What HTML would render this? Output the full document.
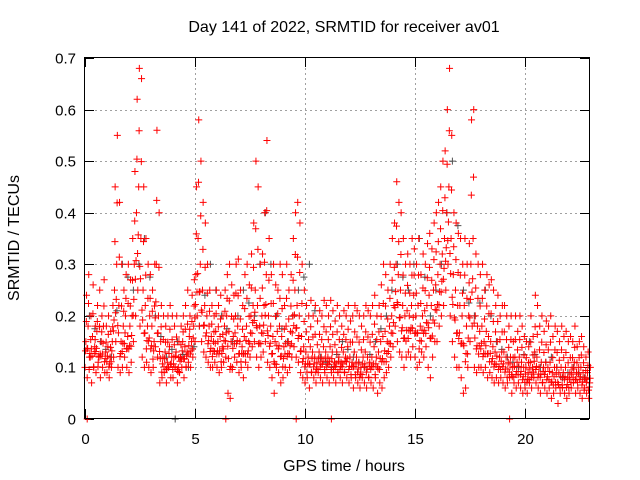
<!DOCTYPE html>
<html><head><meta charset="utf-8"><style>
body{margin:0;background:#fff}
svg{display:block;font-family:"Liberation Sans",sans-serif}
</style></head><body>
<svg id="chart" width="640" height="480" viewBox="0 0 640 480">
<rect width="640" height="480" fill="#fff"/>
<text x="344" y="32" text-anchor="middle" font-size="16">Day 141 of 2022, SRMTID for receiver av01</text>
<text x="344" y="471" text-anchor="middle" font-size="16">GPS time / hours</text>
<text transform="translate(19,238) rotate(-90)" text-anchor="middle" font-size="16">SRMTID / TECUs</text>
<g id="grid"></g>
<g id="ticks"></g>
<g id="gray"></g>
<g id="red"></g>
<rect x="84.5" y="57.5" width="505" height="361" fill="none" stroke="#000" stroke-width="1"/>
</svg>
<script>
const xTicks=[0,5,10,15,20];
const yTicks=[0,0.1,0.2,0.3,0.4,0.5,0.6,0.7];
const yTickLabels=["0","0.1","0.2","0.3","0.4","0.5","0.6","0.7"];
const redHi=[.24,.28,.2,.26,.18,.22,.25,.2,.27,.18,.2,.17,.22,.45,.55,.42,.3,.25,.28,.3,.27,.35,.48,.62,.68,.66,.45,.35,.3,.28,.25,.3,.56,.4,.22,.2,.18,.2,.22,.2,.18,.2,.15,.18,.2,.22,.25,.2,.24,.27,.45,.58,.5,.42,.38,.3,.25,.22,.2,.25,.22,.24,.2,.25,.28,.3,.26,.24,.3,.31,.25,.22,.28,.3,.26,.32,.38,.5,.45,.3,.32,.4,.54,.35,.28,.3,.26,.25,.3,.28,.22,.3,.25,.28,.35,.4,.42,.38,.3,.25,.22,.2,.23,.2,.22,.19,.21,.2,.23,.22,.2,.23,.21,.19,.22,.2,.18,.21,.2,.22,.19,.2,.22,.21,.2,.18,.2,.22,.21,.2,.22,.24,.2,.22,.26,.3,.28,.25,.3,.35,.38,.46,.42,.4,.35,.3,.32,.3,.35,.33,.3,.35,.28,.32,.3,.34,.36,.33,.38,.4,.42,.45,.5,.52,.6,.68,.55,.4,.38,.36,.35,.3,.35,.3,.34,.58,.6,.32,.3,.28,.3,.25,.28,.26,.27,.25,.22,.24,.2,.22,.22,.2,.18,.2,.15,.2,.17,.2,.18,.16,.15,.14,.2,.16,.24,.22,.18,.2,.17,.19,.18,.2,.16,.18,.17,.15,.18,.16,.17,.15,.16,.15,.18,.14,.15,.16,.14,.12,.13,.1];
const redMid=[.15,.18,.12,.16,.14,.17,.12,.15,.18,.13,.14,.12,.15,.25,.3,.22,.15,.18,.2,.16,.18,.2,.3,.4,.45,.35,.25,.22,.18,.2,.18,.15,.3,.2,.15,.12,.13,.11,.14,.12,.12,.13,.1,.12,.15,.14,.13,.16,.15,.18,.28,.35,.3,.25,.22,.2,.18,.16,.15,.17,.15,.16,.14,.18,.2,.17,.15,.16,.2,.18,.15,.14,.16,.18,.15,.2,.22,.25,.22,.18,.2,.22,.28,.2,.18,.16,.15,.17,.18,.16,.14,.18,.15,.17,.2,.25,.22,.2,.16,.14,.13,.12,.14,.13,.12,.11,.13,.12,.14,.13,.12,.14,.13,.11,.13,.12,.11,.13,.12,.14,.12,.11,.13,.12,.11,.1,.12,.13,.12,.11,.12,.14,.12,.13,.15,.16,.17,.15,.18,.2,.22,.3,.28,.25,.22,.2,.21,.2,.22,.24,.2,.22,.18,.2,.21,.22,.24,.22,.25,.26,.28,.3,.32,.35,.4,.45,.35,.28,.25,.22,.22,.2,.22,.18,.2,.3,.35,.2,.18,.17,.18,.15,.17,.16,.15,.14,.13,.15,.12,.13,.13,.12,.11,.12,.1,.12,.11,.12,.11,.1,.1,.09,.11,.1,.13,.12,.1,.11,.1,.11,.1,.11,.09,.1,.1,.09,.1,.09,.1,.08,.09,.1,.11,.09,.1,.1,.09,.08,.09,.07];
const redLo=[.1,.08,.12,.07,.1,.09,.11,.08,.1,.09,.09,.08,.1,.12,.15,.1,.09,.1,.12,.1,.09,.11,.15,.2,.25,.18,.12,.1,.11,.1,.09,.1,.14,.12,.07,.08,.09,.07,.1,.08,.08,.1,.07,.09,.1,.08,.1,.11,.1,.12,.15,.2,.18,.15,.13,.12,.11,.1,.1,.11,.1,.09,.1,.11,.12,.05,.04,.1,.12,.11,.09,.1,.08,.11,.1,.12,.14,.15,.12,.1,.12,.13,.15,.11,.1,.08,.05,.1,.09,.07,.08,.1,.09,.1,.12,.14,.12,.11,.09,.08,.07,.08,.06,.09,.08,.07,.09,.08,.07,.09,.08,.07,.09,.08,.07,.09,.08,.07,.09,.08,.07,.08,.06,.08,.07,.06,.08,.07,.06,.08,.07,.06,.08,.05,.07,.06,.08,.09,.1,.12,.14,.18,.15,.13,.12,.1,.12,.13,.12,.14,.12,.1,.11,.13,.12,.14,.1,.08,.12,.15,.15,.18,.2,.22,.25,.3,.2,.15,.12,.1,.1,.08,.05,.06,.1,.15,.18,.1,.09,.1,.1,.09,.1,.08,.09,.08,.07,.08,.07,.08,.07,.06,.07,.08,.05,.07,.06,.07,.06,.05,.06,.05,.07,.06,.08,.07,.06,.05,.07,.06,.05,.06,.04,.05,.06,.03,.05,.06,.05,.04,.05,.06,.07,.05,.06,.05,.04,.06,.05,.04];
const grayVals=[.2,.15,.12,.3,.25,.35,.2,.12,.15,.1,.18,.3,.2,.15,.25,.2,.4,.2,.15,.25,.3,.12,.1,.15,.12,.1,.15,.2,.3,.25,.35,.2,.3,.5,.25,.2,.25,.15,.12,.1,.15,.1,.12,.08,.1,.08];
const redZeroTimes=[0.1,6.4,9.6,11.2,19.3];
const grayZeroTimes=[4.1];

const X=h=>85+h*22, Y=v=>419-v*515.7;
const NS="http://www.w3.org/2000/svg";
const grid=document.getElementById('grid'),ticks=document.getElementById('ticks');
function line(g,x1,y1,x2,y2,st,dash){const l=document.createElementNS(NS,'line');l.setAttribute('x1',x1);l.setAttribute('y1',y1);l.setAttribute('x2',x2);l.setAttribute('y2',y2);l.setAttribute('stroke',st);if(dash)l.setAttribute('stroke-dasharray',dash);g.appendChild(l);return l;}
function text(x,y,s,anchor){const t=document.createElementNS(NS,'text');t.setAttribute('x',x);t.setAttribute('y',y);t.setAttribute('font-size','15');t.setAttribute('text-anchor',anchor);t.textContent=s;ticks.appendChild(t);return t;}
yTicks.forEach((v,i)=>{const y=Math.round(Y(v))+0.5;
 if(v>0&&v<0.7){const g=line(grid,85,y,589,y,'#a0a0a0','2,3');
 
 }
 line(ticks,85,y,94,y,'#000');line(ticks,589,y,580,y,'#000');
 const t=text(76,y+5,yTickLabels[i],'end');
 
 });
xTicks.forEach(h=>{const x=Math.round(X(h))+0.5;
 if(h>0){const g=line(grid,x,58,x,418,'#a0a0a0','2,3');
 
 }
 line(ticks,x,418,x,409,'#000');line(ticks,x,58,x,67,'#000');
 const t=text(x,444,String(h),'middle');
 
 });
function plus(g,h,v,c){const x=X(h),y=Y(v);const p=document.createElementNS(NS,'path');
 p.setAttribute('d',`M${x-3.5} ${y}H${x+3.5}M${x} ${y-3.5}V${y+3.5}`);p.setAttribute('stroke',c);p.setAttribute('fill','none');
 
 
 g.appendChild(p);}
const gG=document.getElementById('gray'),gR=document.getElementById('red');
grayVals.forEach((v,i)=>plus(gG,i*0.5+0.2,v,'#505050'));
grayVals.forEach((v,i)=>{if(i+1<grayVals.length)plus(gG,i*0.5+0.45,(v+grayVals[i+1])/2,'#505050');});
grayZeroTimes.forEach(h=>plus(gG,h,0,'#505050'));
redLo.forEach((v,i)=>plus(gR,i*0.1,v,'#ff0000'));
redMid.forEach((v,i)=>plus(gR,i*0.1+0.04,v,'#ff0000'));
redHi.forEach((v,i)=>plus(gR,i*0.1+0.07,v,'#ff0000'));
redLo.forEach((v,i)=>plus(gR,i*0.1+0.02,(v+redMid[i])/2+0.007,'#ff0000'));
redMid.forEach((v,i)=>plus(gR,i*0.1+0.06,(v+redHi[i])/2-0.006,'#ff0000'));
redLo.forEach((v,i)=>{if(i+1<redLo.length)plus(gR,i*0.1+0.09,(v+redMid[i+1])/2-0.004,'#ff0000');});
redZeroTimes.forEach(h=>plus(gR,h,0,'#ff0000'));
</script>
</body></html>
